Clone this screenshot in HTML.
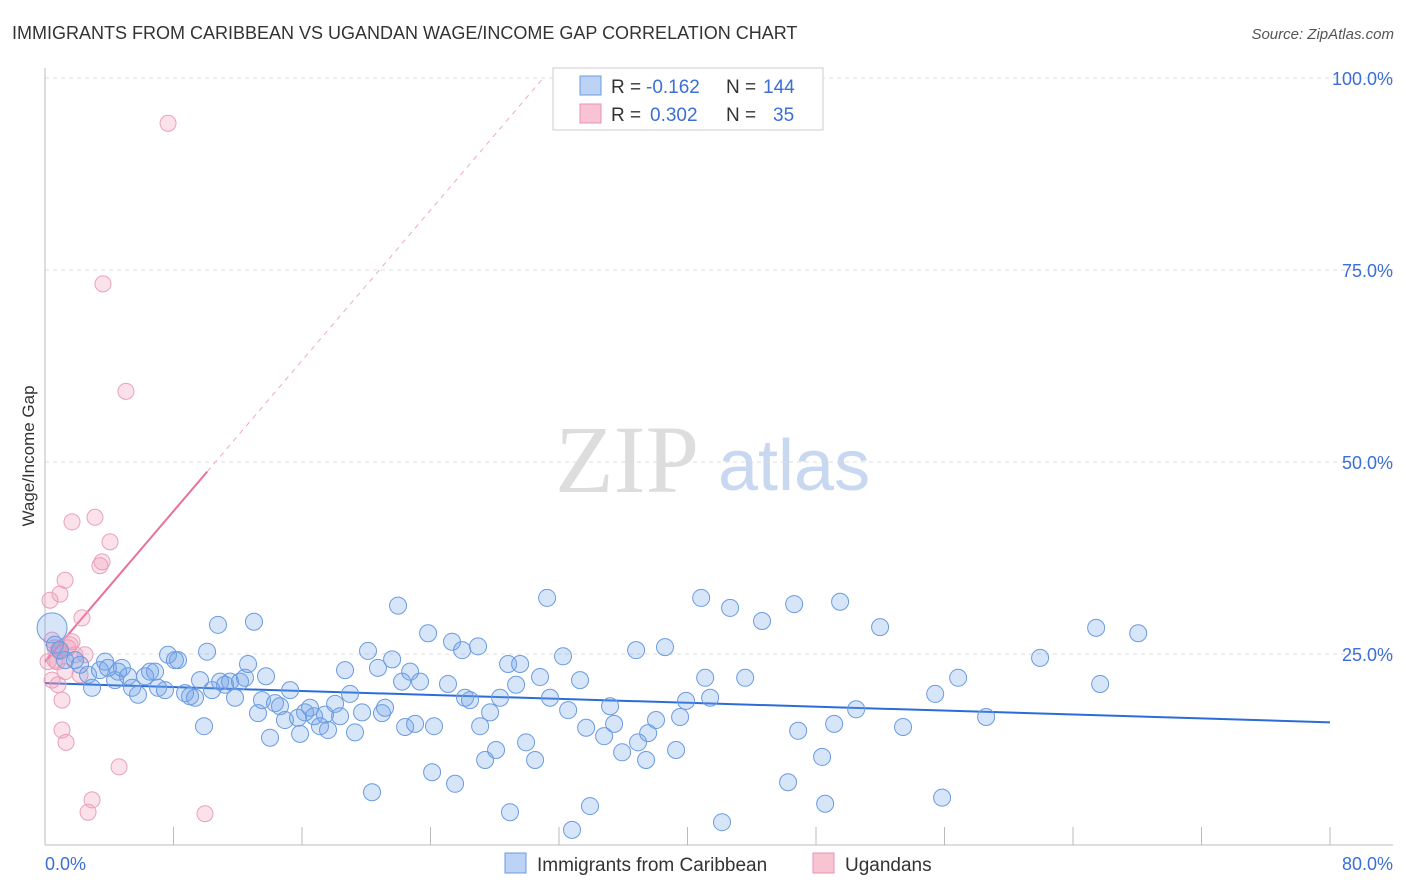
<!DOCTYPE html>
<html><head><meta charset="utf-8"><style>
body{margin:0;background:#fff;font-family:"Liberation Sans",sans-serif;}
svg{display:block}
</style></head><body>
<svg id="chart" width="1406" height="892" xmlns="http://www.w3.org/2000/svg">
<text x="12" y="39" font-size="18" fill="#333">IMMIGRANTS FROM CARIBBEAN VS UGANDAN WAGE/INCOME GAP CORRELATION CHART</text>
<text x="1394" y="39" font-size="15" fill="#555" font-style="italic" text-anchor="end">Source: ZipAtlas.com</text>
<text transform="translate(34,456) rotate(-90)" font-size="17" fill="#333" text-anchor="middle">Wage/Income Gap</text>
<g>
<text x="555" y="492" font-size="96" font-family="Liberation Serif,serif" fill="#ddd">ZIP</text>
<text x="718" y="490" font-size="72" fill="#c8d8f0">atlas</text>
</g>
<g id="grid"></g>
<g id="axes"></g>
<g id="trend"></g>
<g id="pts"></g>
<g>
<rect x="553" y="68" width="270" height="62" fill="#fff" stroke="#ccc"/>
<rect x="580" y="76" width="21" height="19" fill="#bcd3f5" stroke="#6b9be0"/>
<rect x="580" y="104" width="21" height="19" fill="#f8c4d4" stroke="#e890b0"/>
<text x="611" y="93" font-size="19" fill="#333">R =</text>
<text x="646" y="93" font-size="19" fill="#3b6fd4">-0.162</text>
<text x="726" y="93" font-size="19" fill="#333">N =</text>
<text x="763" y="93" font-size="19" fill="#3b6fd4">144</text>
<text x="611" y="121" font-size="19" fill="#333">R =</text>
<text x="650" y="121" font-size="19" fill="#3b6fd4">0.302</text>
<text x="726" y="121" font-size="19" fill="#333">N =</text>
<text x="773" y="121" font-size="19" fill="#3b6fd4">35</text>
</g>
<g>
<rect x="505" y="853" width="21" height="20" fill="#bcd3f5" stroke="#6b9be0"/>
<text x="537" y="871" font-size="19" fill="#333">Immigrants from Caribbean</text>
<rect x="813" y="853" width="21" height="20" fill="#f8c4d4" stroke="#e890b0"/>
<text x="845" y="871" font-size="19" fill="#333">Ugandans</text>
</g>
</svg>
<script>
const yTicks=[25,50,75,100];
const yTickLabels=["25.0%","50.0%","75.0%","100.0%"];
const xTicks=[0,10,20,30,40,50,60,70,80,90,100].map(v=>v*0.8);
const xLabels=["0.0%","80.0%"];
const blueX=[0.44,0.62,0.93,1.25,1.87,2.18,2.68,2.93,3.42,3.74,3.92,4.36,4.55,4.79,5.17,5.42,5.79,6.23,6.54,6.85,7.04,7.47,7.66,8.09,8.28,8.72,9.03,9.34,9.65,10.09,10.4,9.9,10.77,10.9,11.21,11.52,11.83,12.14,12.45,12.64,13.01,13.26,13.51,13.76,14.01,14.32,14.63,14.94,15.26,15.75,15.88,16.19,16.5,16.75,17.12,17.43,17.62,18.06,18.37,18.68,18.99,19.3,19.74,20.11,20.36,20.73,20.98,21.17,21.61,21.98,22.23,22.42,22.73,23.04,23.35,23.85,24.1,24.22,25.09,25.34,25.53,25.97,26.15,26.46,26.96,27.09,27.4,27.71,28.08,28.33,28.83,28.95,29.33,29.58,29.95,30.51,30.82,31.26,31.44,32.25,32.57,32.81,33.31,33.69,33.93,34.81,35.18,35.43,35.93,36.92,36.8,37.42,37.55,38.04,38.6,39.29,39.54,39.91,40.85,41.1,41.41,42.15,42.65,43.59,44.64,46.26,46.64,46.89,48.38,48.57,49.13,49.5,50.5,51.99,53.42,55.42,55.85,56.85,58.59,61.95,65.44,65.69,68.06];
const blueY=[28.4,26.2,25.5,24.2,24.2,23.6,22.3,20.6,22.9,24.0,23.2,21.6,22.7,23.2,22.1,20.6,19.7,22.1,22.7,22.7,20.6,20.3,24.9,24.2,24.2,19.9,19.5,19.3,21.6,25.3,20.3,15.6,28.8,21.4,21.0,21.4,19.3,21.4,21.9,23.7,29.2,17.3,19.0,22.1,14.1,18.6,18.2,16.4,20.3,16.7,14.6,17.4,18.0,16.9,15.6,17.1,15.1,18.5,16.9,22.9,19.8,14.8,17.4,25.4,7.0,23.2,17.3,18.0,24.3,31.3,21.4,15.5,22.7,15.9,21.4,27.7,9.6,15.6,21.1,26.6,8.1,25.5,19.3,19.0,26.0,15.6,11.2,17.4,12.5,19.3,23.7,4.4,21.0,23.7,13.5,11.2,22.0,32.3,19.3,24.7,17.7,2.1,21.6,15.4,5.2,14.3,18.2,15.9,12.2,13.5,25.5,11.2,14.7,16.4,25.9,12.5,16.8,18.9,32.3,21.9,19.3,3.1,31.0,21.9,29.3,8.3,31.5,15.0,11.6,5.5,15.9,31.8,17.8,28.5,15.5,19.8,6.3,21.9,16.8,24.5,28.4,21.1,27.7];
const pinkX=[0.31,0.44,0.62,0.62,0.75,0.81,0.93,1.06,1.06,1.25,1.31,1.43,1.68,1.68,1.87,2.18,2.3,2.49,2.93,2.68,3.11,3.42,3.55,3.61,4.05,4.61,5.04,7.66,9.96,0.19,0.44,0.93,1.56,0.81,1.25];
const pinkY=[32.0,26.8,25.8,24.2,24.0,21.0,32.8,19.0,15.1,34.6,13.5,25.8,42.2,26.6,24.9,22.3,29.7,24.9,6.0,4.4,42.8,36.5,37.0,73.2,39.6,10.3,59.2,94.1,4.2,24.0,21.6,25.3,26.2,25.5,22.7];
const blueTrend=[21.2,16.1];
const pinkTrend=[24.0,2.45];

const NS="http://www.w3.org/2000/svg";
const X=v=>45+v*(1285/80), Y=v=>846-v*7.68;
function mk(p,t,a){const e=document.createElementNS(NS,t);for(const k in a)e.setAttribute(k,a[k]);p.appendChild(e);return e;}
const grid=document.getElementById('grid'),axes=document.getElementById('axes');
yTicks.forEach((v,i)=>{
 const l=mk(grid,'line',{x1:45,x2:1393,y1:Y(v),y2:Y(v),stroke:'#ddd','stroke-dasharray':'4,4'});
 
 
 const t=mk(axes,'text',{x:1393,y:Y(v)+7,'font-size':18,fill:'#3b6fd4','text-anchor':'end'});t.textContent=yTickLabels[i];
 
 
});
mk(axes,'line',{x1:45,x2:45,y1:68,y2:845,stroke:'#bbb'});
mk(axes,'line',{x1:45,x2:1393,y1:845,y2:845,stroke:'#bbb'});
xTicks.forEach(v=>{const l=mk(axes,'line',{x1:X(v),x2:X(v),y1:827,y2:845,stroke:'#bbb'});
 
 });
let t1=mk(axes,'text',{x:45,y:870,'font-size':18,fill:'#3b6fd4'});t1.textContent=xLabels[0];


let t2=mk(axes,'text',{x:1393,y:870,'font-size':18,fill:'#3b6fd4','text-anchor':'end'});t2.textContent=xLabels[1];


const pts=document.getElementById('pts');
pinkX.forEach((x,i)=>{const c=mk(pts,'circle',{cx:X(x),cy:Y(pinkY[i]),r:8,fill:'rgba(240,150,180,0.28)',stroke:'#eaa0bb','stroke-width':1});
 
 });
blueX.forEach((x,i)=>{const c=mk(pts,'circle',{cx:X(x),cy:Y(blueY[i]),r:i==0?15:8.5,fill:'rgba(110,160,235,0.28)',stroke:'#6b9be0','stroke-width':1});
 
 });
const tr=document.getElementById('trend');
let b=mk(tr,'line',{x1:X(0),y1:Y(blueTrend[0]),x2:X(80),y2:Y(blueTrend[1]),stroke:'#2a6dd9','stroke-width':2});


const xe=(100-pinkTrend[0])/pinkTrend[1];
let p1=mk(tr,'line',{x1:X(0),y1:Y(pinkTrend[0]),x2:X(10.1),y2:Y(pinkTrend[0]+pinkTrend[1]*10.1),stroke:'#e8709a','stroke-width':2});


let p2=mk(tr,'line',{x1:X(10.1),y1:Y(pinkTrend[0]+pinkTrend[1]*10.1),x2:X(xe),y2:Y(100),stroke:'#eeaac2','stroke-width':1,'stroke-dasharray':'5,5'});


</script>
</body></html>
